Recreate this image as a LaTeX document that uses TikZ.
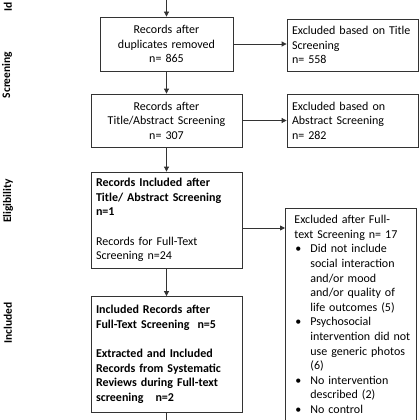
\documentclass[tikz,border=0pt]{standalone}
\usepackage{fontspec}
\setmainfont{Carlito}
\usetikzlibrary{arrows.meta}
\tikzset{
  box/.style={draw=black!80, line width=0.8pt, rectangle, inner sep=4pt,
    font=\fontsize{12}{14.6}\selectfont, text=black},
  arr/.style={draw=black!80, line width=0.8pt, -{Triangle[length=5pt,width=5pt]}},
  phase/.style={rotate=90, font=\fontsize{11.5}{12}\selectfont\bfseries, text=black, inner sep=0pt}
}
\begin{document}
\begin{tikzpicture}[x=1pt,y=-1pt]
\useasboundingbox (0,0) rectangle (420,420);
\clip (0,0) rectangle (420,420);
\fill[white] (0,0) rectangle (420,420);
% phase labels
\node[phase, anchor=west] (pid) at (8,12) {Id};
\node[phase] (pscr) at (7,75) {Screening};
\node[phase] (pelig) at (8,201) {Eligibility};
\node[phase] (pincl) at (8,323) {Included};
% main boxes
\node[box, minimum width=133pt, minimum height=54pt, text width=125pt, align=center] (b1) at (166.5,44)
  {Records after\\duplicates removed\\n= 865};
\node[box, minimum width=151pt, minimum height=53pt, text width=143pt, align=center] (b2) at (166.5,120.5)
  {Records after\\Title/Abstract Screening\\n= 307};
\node[box, minimum width=151pt, minimum height=96pt, text width=141pt, align=left, inner xsep=5pt] (b3) at (166.5,220)
  {\textbf{Records Included after}\\\textbf{Title/ Abstract Screening}\\\textbf{n=1}\\[14.6pt]Records for Full-Text\\Screening n=24};
\node[box, minimum width=151pt, minimum height=116pt, text width=141pt, align=left, inner xsep=5pt] (b5) at (166.5,354.5)
  {\bfseries Included Records after\\Full-Text Screening\ \ n=5\\[14.6pt]Extracted and Included\\Records from Systematic\\Reviews during Full-text\\screening\ \ \ n=2};
% excluded boxes
\node[box, minimum width=131pt, minimum height=52pt, text width=121pt, align=left, inner xsep=5pt] (e1) at (352.5,45)
  {Excluded based on Title\\Screening\\n= 558};
\node[box, minimum width=131pt, minimum height=53pt, text width=121pt, align=left, inner xsep=5pt] (e2) at (352.5,120.5)
  {Excluded based on\\Abstract Screening\\n= 282};
\node[box, anchor=north west, minimum width=131pt, text width=121pt, align=left, inner xsep=5pt, inner ysep=7pt] (e3) at (285,208)
  {\hspace*{4pt}Excluded after Full-\\\hspace*{4pt}text Screening n= 17\\
   \hspace*{4pt}\makebox[16pt][l]{\hspace{1pt}•}Did not include\\
   \hspace*{20pt}social interaction\\
   \hspace*{20pt}and/or mood\\
   \hspace*{20pt}and/or quality of\\
   \hspace*{20pt}life outcomes (5)\\
   \hspace*{4pt}\makebox[16pt][l]{\hspace{1pt}•}Psychosocial\\
   \hspace*{20pt}intervention did not\\
   \hspace*{20pt}use generic photos\\
   \hspace*{20pt}(6)\\
   \hspace*{4pt}\makebox[16pt][l]{\hspace{1pt}•}No intervention\\
   \hspace*{20pt}described (2)\\
   \hspace*{4pt}\makebox[16pt][l]{\hspace{1pt}•}No control\\
   \hspace*{20pt}\phantom{group}};
% connectors
\coordinate (top) at (166.5,-2);
\coordinate (bot) at (166.5,425);
\draw[arr] (top) -- (b1.north);
\draw[arr] (b1) -- (b2);
\draw[arr] (b2) -- (b3);
\draw[arr] (b3) -- (b5);
\draw[draw=black!80, line width=0.8pt] (b5.south) -- (bot);
\draw[arr] (b1.east) -- (b1.east -| e1.west);
\draw[arr] (b2.east) -- (b2.east -| e2.west);
\draw[arr] (b3.east |- 0,228) -- (e3.west |- 0,228);
\end{tikzpicture}
\end{document}
